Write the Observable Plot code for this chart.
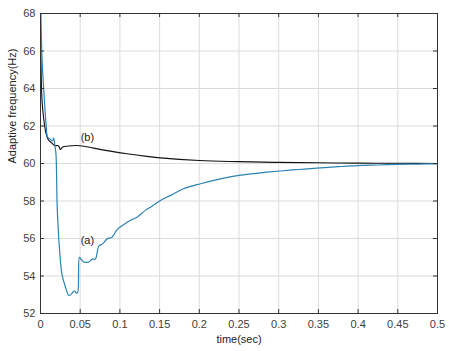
<!DOCTYPE html>
<html><head><meta charset="utf-8">
<script src="https://cdn.jsdelivr.net/npm/d3@7"></script>
<script src="https://cdn.jsdelivr.net/npm/@observablehq/plot@0.6"></script>
<style>body{margin:0;background:#fff}</style>
</head><body><div id="chart"></div>
<script>
// Curve (a): blue
const timeA = [0.0005,0.002,0.004,0.007,0.009,0.012,0.015,0.0165,0.018,0.0195,0.021,0.024,0.027,0.0315,0.0357,0.038,0.041,0.043,0.045,0.0466,0.049,0.051,0.0546,0.061,0.065,0.069,0.0735,0.0777,0.084,0.090,0.097,0.105,0.113,0.122,0.132,0.1385,0.151,0.164,0.180,0.2015,0.2267,0.252,0.277,0.302,0.325,0.348,0.375,0.399,0.425,0.449,0.475,0.5];
const freqA = [68,65.5,64,62.1,61.4,61.3,61.2,61.35,61.0,60.5,57.7,55.4,54.1,53.4,52.96,53.0,53.15,53.2,53.1,53.1,55.0,54.9,54.75,54.75,54.9,54.9,55.6,55.7,55.98,56.07,56.5,56.75,56.96,57.15,57.5,57.67,58.03,58.3,58.65,58.92,59.18,59.38,59.5,59.6,59.68,59.75,59.83,59.89,59.92,59.95,59.97,59.98];
// Curve (b): black
const timeB = [0.0005,0.001,0.002,0.004,0.007,0.010,0.014,0.018,0.0225,0.025,0.028,0.035,0.045,0.055,0.067,0.088,0.109,0.134,0.151,0.2,0.25,0.3,0.35,0.4,0.45,0.5];
const freqB = [66,64.5,63.3,62.4,61.6,61.25,61.1,60.95,60.95,60.75,60.88,60.93,60.96,60.92,60.82,60.66,60.52,60.38,60.3,60.16,60.1,60.06,60.04,60.02,60.01,60.0];
const xTicks = [0,0.05,0.1,0.15,0.2,0.25,0.3,0.35,0.4,0.45,0.5];
const yTicks = [52,54,56,58,60,62,64,66,68];
const curveLabels = ["(b)","(a)"];
const labelT = [0.059,0.059];
const labelF = [61.4,55.9];

const A = timeA.map((t,i)=>({t, f: freqA[i]}));
const B = timeB.map((t,i)=>({t, f: freqB[i]}));
const L = curveLabels.map((s,i)=>({s, t: labelT[i], f: labelF[i]}));
const fmt = d => String(+d.toFixed(2));

const chart = Plot.plot({
  width: 449, height: 351,
  marginLeft: 40, marginRight: 12, marginTop: 13, marginBottom: 38,
  style: {fontFamily: "'Liberation Sans', Arial, sans-serif", fontSize: "11px", color: "#404040", background: "#fff"},
  x: {domain: [0, 0.5]},
  y: {domain: [52, 68]},
  marks: [
    Plot.gridX(xTicks, {stroke: "#dcdcdc", strokeOpacity: 1}),
    Plot.gridY(yTicks, {stroke: "#dcdcdc", strokeOpacity: 1}),
    Plot.line(B, {x: "t", y: "f", stroke: "#111", strokeWidth: 1.1, curve: "catmull-rom"}),
    Plot.line(A, {x: "t", y: "f", stroke: "#2b83b3", strokeWidth: 1.2, curve: "catmull-rom"}),
    Plot.text(L, {x: "t", y: "f", text: "s", fill: "#222", fontSize: 11}),
    Plot.ruleX(xTicks, {x: d => d, insetTop: 296, stroke: "#333"}),
    Plot.ruleX(xTicks, {x: d => d, insetBottom: 296, stroke: "#333"}),
    Plot.ruleY(yTicks, {y: d => d, insetRight: 393, stroke: "#333"}),
    Plot.ruleY(yTicks, {y: d => d, insetLeft: 393, stroke: "#333"}),
    Plot.frame({stroke: "#333"}),
    Plot.axisX(xTicks, {tickSize: 0, tickPadding: 7, tickFormat: fmt, label: null}),
    Plot.axisY(yTicks, {tickSize: 0, tickPadding: 5, tickFormat: fmt, label: null}),
    Plot.text(["time(sec)"], {frameAnchor: "bottom", dy: 29, text: d => d, fill: "#222", fontSize: 11}),
    Plot.text(["Adaptive frequency(Hz)"], {frameAnchor: "left", dx: -28, rotate: -90, text: d => d, fill: "#222", fontSize: 11})
  ]
});
document.getElementById("chart").append(chart);
</script>
</body></html>
